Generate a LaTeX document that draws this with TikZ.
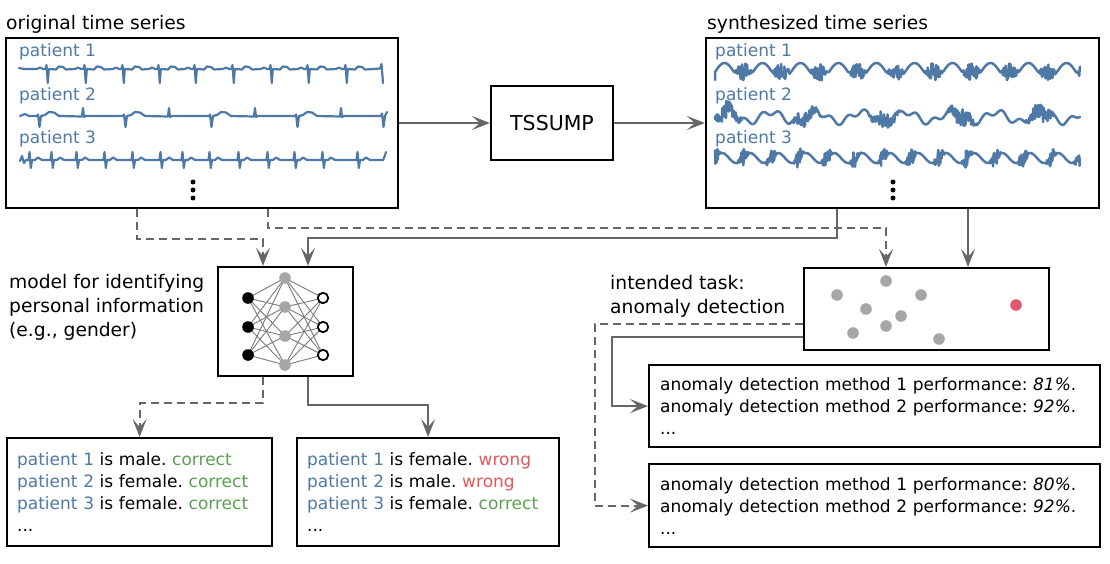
\documentclass[tikz,border=0pt]{standalone}
\usepackage{fontspec}
\setmainfont{DejaVu Sans}[ItalicFont={DejaVu Sans Oblique}]
\usetikzlibrary{arrows.meta}
\definecolor{tblue}{HTML}{4E79A7}
\definecolor{tgreen}{HTML}{59A14F}
\definecolor{tred}{HTML}{E15759}
\definecolor{conng}{HTML}{666666}
\definecolor{dotg}{HTML}{A6A6A6}
\definecolor{anred}{HTML}{E05A6C}
\definecolor{edgeg}{HTML}{7A7A7A}
\newcommand{\fbody}{\fontsize{17}{22}\selectfont}
\newcommand{\flabel}{\fontsize{18.7}{24}\selectfont}
\frenchspacing
\begin{document}
\begin{tikzpicture}[x=1pt,y=-1pt,
  box/.style={draw=black, line width=2.2pt, inner sep=0pt},
  conn/.style={draw=conng, line width=2.2pt, -{Stealth[length=18pt,width=14pt,inset=8pt]}},
  dsh/.style={dash pattern=on 8pt off 5pt},
  wave/.style={draw=tblue, line width=2.2pt, line join=round, line cap=round},
  swave/.style={draw=tblue, line width=2.5pt, line join=round, line cap=round},
  lbl/.style={inner sep=0pt, font=\flabel, align=left},
  ptl/.style={inner sep=0pt, font=\fbody, text=tblue, anchor=base west},
  txtbox/.style={box, font=\fbody, align=left, inner xsep=10pt, anchor=north west},
]
\useasboundingbox (0,0) rectangle (1110,564);

% main boxes
\node[box, minimum width=392pt, minimum height=170pt] (orig) at (202,123) {};
\node[box, minimum width=393pt, minimum height=170pt] (synth) at (902.5,123) {};
\node[box, minimum width=122pt, minimum height=74pt, font=\fontsize{20.5}{24}\selectfont] (tss) at (552,123) {TSSUMP};
\node[box, minimum width=135pt, minimum height=109pt] (nn) at (285.5,321.5) {};
\node[box, minimum width=245pt, minimum height=82pt] (anom) at (926.5,309) {};

\node[txtbox, inner xsep=11pt, text width=429pt, minimum height=82pt] (perfA) at (648,364)
  {anomaly detection method 1 performance: \textit{81\%}.\\anomaly detection method 2 performance: \textit{92\%}.\\...};
\node[txtbox, inner xsep=11pt, text width=429pt, minimum height=83pt] (perfB) at (648,463)
  {anomaly detection method 1 performance: \textit{80\%}.\\anomaly detection method 2 performance: \textit{92\%}.\\...};
\node[txtbox, text width=245pt, minimum height=108pt] (resL) at (6,437)
  {\textcolor{tblue}{patient 1} is male. \textcolor{tgreen}{correct}\\
   \textcolor{tblue}{patient 2} is female. \textcolor{tgreen}{correct}\\
   \textcolor{tblue}{patient 3} is female. \textcolor{tgreen}{correct}\\...};
\node[txtbox, text width=242pt, minimum height=108pt] (resR) at (296,437)
  {\textcolor{tblue}{patient 1} is female. \textcolor{tred}{wrong}\\
   \textcolor{tblue}{patient 2} is male. \textcolor{tred}{wrong}\\
   \textcolor{tblue}{patient 3} is female. \textcolor{tgreen}{correct}\\...};

% labels
\node[lbl, anchor=base west] (t1) at (6,30) {original time series};
\node[lbl, anchor=base west] (t2) at (707,30) {synthesized time series};
\node[lbl, anchor=west] (nnl) at (9,307.7) {model for identifying\\personal information\\(e.g., gender)};
\node[lbl, anchor=west] (anl) at (610,296) {intended task:\\anomaly detection};

\node[ptl] (o1) at (19,57) {patient 1};
\node[ptl] (o2) at (19,101) {patient 2};
\node[ptl] (o3) at (19,144) {patient 3};
\node[ptl] (s1) at (715,57) {patient 1};
\node[ptl] (s2) at (715,101) {patient 2};
\node[ptl] (s3) at (715,144) {patient 3};

% original waves
\draw[wave] (19,68) -- (24,69)
  \foreach \p in {47,85,123,159,195,233,271,308,346} {
    -- (\p-10,69) -- (\p-7,67.5) -- (\p-4,69) -- (\p-1.5,69) -- (\p-0.5,65) -- (\p+0.8,83) -- (\p+1.8,69)
    -- (\p+9,69.5) -- (\p+12,66.5) -- (\p+16,67) -- (\p+19,69.5)
  }
  -- (374,69) -- (380,68.5) -- (381.5,64) -- (383,83);
\draw[wave] (20,116) -- (25,114) -- (29,116)
  \foreach \d in {39,125,211,297} {
    -- (\d-2,116) -- (\d-1,114.5) -- (\d+0.5,127) -- (\d+2,116) -- (\d+6,115) -- (\d+10,112) -- (\d+15,112.5)
    -- (\d+20,116) -- (\d+43,116.5) -- (\d+44,108) -- (\d+45,117) -- (\d+47,116)
  }
  -- (381,116) -- (382,113.5) -- (383.5,127) -- (385,116) -- (387,112);
\draw[wave] (20,161) -- (22,156) -- (24,163) -- (26,160)
  \foreach \s in {30,52,77,105,133,161,183,210,239,268,295,323,358} {
    -- (\s-1.5,160) -- (\s-0.5,152) -- (\s+0.8,168) -- (\s+2,160) -- (\s+5,160) -- (\s+8,157.5) -- (\s+12,160)
  }
  -- (383,160) -- (384,158) -- (386,152);

% synthesized waves
\pgfmathsetseed{42}
\draw[swave] (715,80) -- plot[domain=715:1080, samples=900]
  (\x, {72 - 9*max(sin(9.4737*(\x-715)),0) + 9*rand*max(-1*sin(9.4737*(\x-715)),0)});
\draw[swave] plot[domain=715:1080, samples=900]
  (\x, {117 - 5*sin(8*(\x-715)) + 3*sin(21*(\x-715)) + 9*rand*(max(sin(4.615*(\x-715)+30),0))^2});
\draw[swave] plot[domain=715:1080, samples=900]
  (\x, {158 - 5*sin(12.857*(\x-715)) + 9*rand*(max(cos(12.857*(\x-715)),0))^2});

% vertical dots
\foreach \y in {182,190,198} {
  \fill (193,\y) circle (2.5pt);
  \fill (893,\y) circle (2.5pt);
}

% neural network icon
\foreach \a in {298,327,355} {
  \foreach \b in {278,307,336,365} {
    \draw[edgeg, line width=0.9pt] (248,\a) -- (285,\b) -- (323,\a);
  }
}
\foreach \a in {298,327,355} {
  \fill (248,\a) circle (5.8pt);
  \draw[fill=white, line width=1.8pt] (323,\a) circle (5.2pt);
}
\foreach \b in {278,307,336,365} \fill[dotg] (285,\b) circle (5.8pt);

% anomaly scatter
\foreach \p in {(837,295),(886,281),(921,295),(866,309),(901,316),(886,326),(853,333),(939,339)}
  \fill[dotg] \p circle (5.8pt);
\fill[anred] (1016,305) circle (5.8pt);

% connectors
\draw[conn] (orig.east) -- (tss.west);
\draw[conn] (tss.east) -- (synth.west);
\draw[conn, dsh] ([xshift=-65pt]orig.south) -- ++(0,30) -| ([xshift=-22.5pt]nn.north);
\draw[conn, dsh] ([xshift=66pt]orig.south) -- ++(0,19) -| ([xshift=-40.5pt]anom.north);
\draw[conn] ([xshift=-65.5pt]synth.south) -- ++(0,29) -| ([xshift=22.5pt]nn.north);
\draw[conn] ([xshift=65.5pt]synth.south) -- ([xshift=41.5pt]anom.north);
\draw[conn, dsh] ([xshift=-22.5pt]nn.south) -- ++(0,26) -| (resL.north);
\draw[conn] ([xshift=22.5pt]nn.south) -- ++(0,28) -| (resR.north);
\draw[conn, dsh] ([yshift=-15pt]anom.west) -- ++(-208,0) |- (perfB.west);
\draw[conn] ([yshift=-28pt]anom.west) -- ++(-191,0) |- (perfA.west);
\end{tikzpicture}
\end{document}
